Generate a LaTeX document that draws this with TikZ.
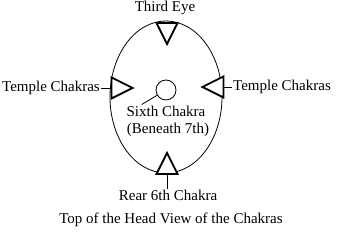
\documentclass[tikz,border=0pt]{standalone}
\usepackage{fontspec}
\setmainfont{Liberation Serif}
\usetikzlibrary{shapes, arrows.meta, positioning, calc}

\begin{document}
\begin{tikzpicture}[
    x=1pt, y=-1pt,
    label/.style={font=\fontsize{15}{17}\selectfont, inner sep=1pt},
    chakra/.style={isosceles triangle, isosceles triangle stretches, draw, line width=1.8pt, fill=white, minimum width=21pt, minimum height=21pt, inner sep=0pt},
    spot/.style={circle, draw, line width=0.8pt, minimum size=20pt, inner sep=0pt},
    edge/.style={-, line width=0.8pt}
]

\useasboundingbox (0,0) rectangle (337,237);

% Head outline
\draw[edge] (166,97) ellipse [x radius=56, y radius=76];

% Chakras
\node[chakra, rotate=-90] (TopTri) at (167,29.5) {};
\node[chakra] (LeftTri) at (118,88) {};
\node[chakra, rotate=180] (RightTri) at (217,87) {};
\node[chakra, rotate=90] (BotTri) at (167,167.5) {};
\node[spot] (Sixth) at (166,90) {};

% Labels
\node[label] (ThirdEye) at (165,8) {Third Eye};
\node[label, anchor=east] (LeftTemple) at (101,88) {Temple Chakras};
\node[label, anchor=west] (RightTemple) at (232,87) {Temple Chakras};
\node[label] (SixthTxt) at (166,111) {Sixth Chakra};
\node[label] (Beneath) at (168,130) {(Beneath 7th)};
\node[label] (Rear) at (168,195) {Rear 6th Chakra};
\node[label] (Title) at (171,220) {Top of the Head View of the Chakras};

% Edges
\draw[edge] (LeftTemple.east) -- (LeftTri);
\draw[edge] (RightTri) -- (RightTemple.west);
\draw[edge] (Sixth) -- ($(SixthTxt.north west)!0.2!(SixthTxt.north east)$);
\draw[edge] (BotTri) -- (BotTri |- Rear.north);

\end{tikzpicture}
\end{document}
